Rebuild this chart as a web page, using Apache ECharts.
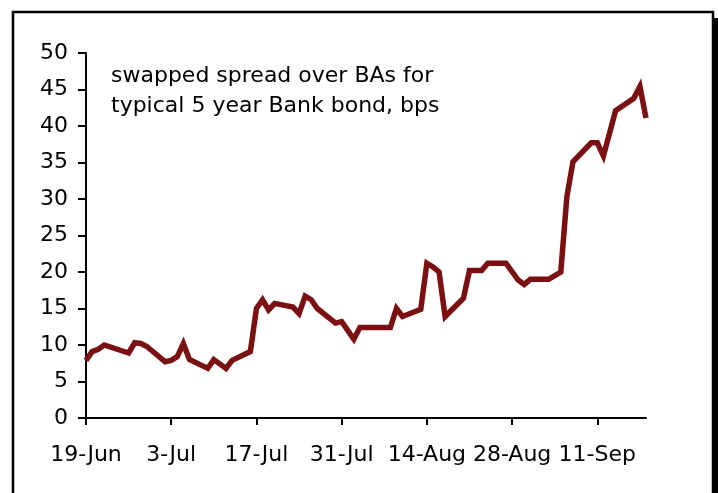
<!DOCTYPE html>
<html>
<head>
<meta charset="utf-8">
<script src="https://cdn.jsdelivr.net/npm/echarts@6/dist/echarts.min.js"></script>
<style>
  html, body { margin: 0; padding: 0; background: #fff; }
  #chart { width: 718px; height: 493px; }
</style>
</head>
<body>
<div id="chart"></div>
<script>
// days counted from 19-Jun
let days = [0, 1, 2, 3, 7, 8, 9, 10, 13, 14, 15, 16, 17, 20, 21, 23, 24, 27, 28, 29, 30, 31,
  34, 35, 36, 37, 38, 41, 42, 44, 45, 50, 51, 52, 55, 56, 57, 58, 59, 62, 63, 65, 66,
  69, 71, 72, 73, 76, 78, 79, 80, 83, 84, 85, 87, 90, 91, 92];
let spread = [7.9, 9.1, 9.4, 10.0, 8.9, 10.3, 10.2, 9.8, 7.7, 7.9, 8.4, 10.2, 8.0, 6.8, 8.0, 6.8, 7.9,
  9.1, 15.0, 16.2, 14.8, 15.7, 15.2, 14.3, 16.7, 16.2, 15.0, 13.0, 13.2, 10.8, 12.4, 12.4, 15.0,
  13.9, 14.9, 21.2, 20.7, 20.0, 13.9, 16.4, 20.2, 20.2, 21.2, 21.2, 18.9, 18.3, 19.0, 19.0, 20.0,
  30.3, 35.1, 37.7, 37.7, 35.9, 42.1, 43.8, 45.4, 41.1];
let tickLabels = ['19-Jun', '3-Jul', '17-Jul', '31-Jul', '14-Aug', '28-Aug', '11-Sep'];
let tickDays = [0, 14, 28, 42, 56, 70, 84];

let myChart = echarts.init(document.getElementById('chart'));
let data = [];
for (let i = 0; i < days.length; i++) {
  data.push([days[i], spread[i]]);
}
let font = 'DejaVu Sans';
let option = {
  backgroundColor: '#fff',
  animation: false,
  grid: {
    left: 86,
    right: 72,
    top: 53,
    bottom: 75
  },
  xAxis: {
    type: 'value',
    min: 0,
    max: 92,
    interval: 14,
    axisLine: {lineStyle: {color: '#000', width: 2}},
    axisTick: {
      customValues: tickDays,
      length: 7,
      lineStyle: {color: '#000', width: 2}
    },
    axisLabel: {
      customValues: tickDays,
      color: '#000',
      fontFamily: font,
      fontSize: 22,
      margin: 26,
      formatter: function (v) {
        return tickLabels[tickDays.indexOf(v)];
      }
    },
    splitLine: {show: false}
  },
  yAxis: {
    type: 'value',
    min: 0,
    max: 50,
    interval: 5,
    axisLine: {show: true, lineStyle: {color: '#000', width: 2}},
    axisTick: {show: true, length: 8, lineStyle: {color: '#000', width: 2}},
    axisLabel: {
      color: '#000',
      fontFamily: font,
      fontSize: 22,
      margin: 18
    },
    splitLine: {show: false}
  },
  graphic: [
    {
      type: 'rect',
      shape: {x: 13, y: 12, width: 700, height: 520},
      style: {fill: 'none', stroke: '#000', lineWidth: 2.5},
      silent: true
    },
    {
      type: 'rect',
      shape: {x: 714, y: 18, width: 4, height: 480},
      style: {fill: '#000'},
      silent: true
    },
    {
      type: 'text',
      left: 111,
      top: 61,
      style: {
        text: 'swapped spread over BAs for\ntypical 5 year Bank bond, bps',
        fontFamily: font,
        fontSize: 22,
        lineHeight: 30,
        fill: '#000'
      }
    }
  ],
  series: [
    {
      name: 'spread',
      type: 'line',
      data: data,
      showSymbol: false,
      symbol: 'none',
      lineStyle: {color: '#7a1012', width: 5.5, join: 'miter'}
    }
  ]
};
myChart.setOption(option);
</script>
</body>
</html>
